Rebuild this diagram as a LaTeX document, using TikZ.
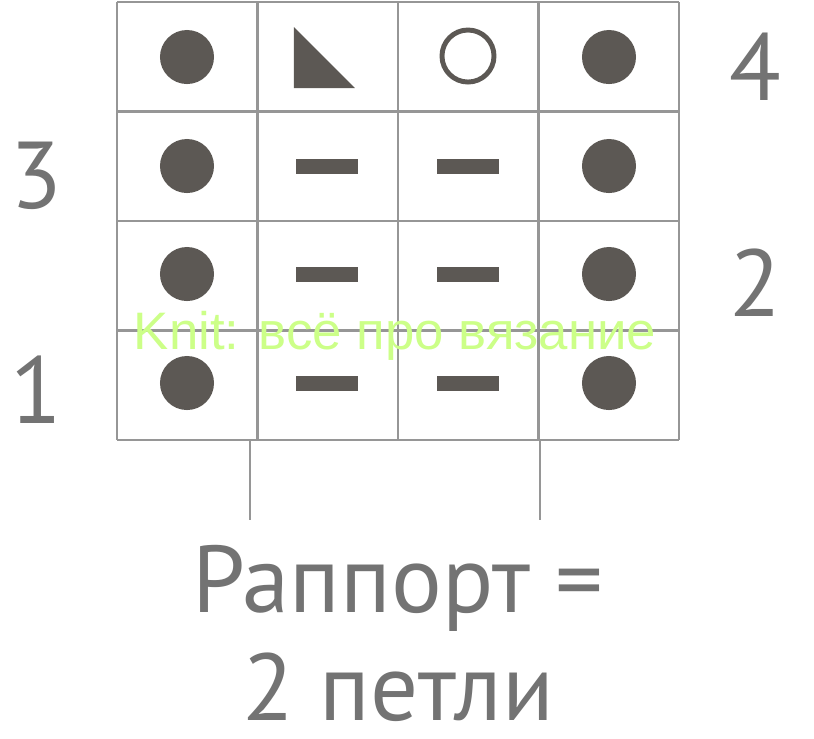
\documentclass[tikz,border=0pt]{standalone}
\usepackage{fontspec}
\setmainfont{PT Sans}
\newfontfamily\markfont{Liberation Sans}
\definecolor{gridgray}{RGB}{150,150,150}
\definecolor{inkgray}{RGB}{92,88,84}
\definecolor{textgray}{RGB}{115,115,115}
\definecolor{markgreen}{RGB}{204,255,136}
\begin{document}
\begin{tikzpicture}[x=0.01cm, y=-0.01cm,
        gridline/.style={gridgray, line width=0.7pt},
        dot/.style={circle, fill=inkgray, minimum size=0.54cm, inner sep=0pt},
        ring/.style={circle, draw=inkgray, line width=1.4pt, minimum size=0.52cm, inner sep=0pt},
        bar/.style={rectangle, fill=inkgray, minimum width=0.62cm, minimum height=0.15cm, inner sep=0pt},
        rownum/.style={text=textgray, inner sep=0pt, font=\fontsize{27}{27}\selectfont},
        caption/.style={text=textgray, inner sep=0pt, font=\fontsize{27}{27}\selectfont, anchor=base}]
        \fill[white] (0,0) rectangle (814,738);
        \useasboundingbox (0,0) rectangle (814,738);
        % chart grid
        \foreach \i in {0,...,4}
            \draw[gridline] ({117+140.5*\i},2) -- ({117+140.5*\i},440);
        \foreach \j in {0,...,4}
            \draw[gridline] (117,{2+109.5*\j}) -- (679,{2+109.5*\j});
        \draw[gridline] (250,440) -- (250,520);
        \draw[gridline] (540,440) -- (540,520);
        % top row
        \node[dot] (c11) at (187,57) {};
        \coordinate (c12) at (327,57);
        \fill[inkgray, shift={(c12)}] (-33,-30) -- (-33,31) -- (28,31) -- cycle;
        \node[ring] (c13) at (468,56) {};
        \node[dot] (c14) at (609,57) {};
        % other rows
        \foreach \r/\y in {2/166, 3/274, 4/383} {
            \node[dot] (c\r1) at (187,\y) {};
            \node[bar] (c\r2) at (327,\y) {};
            \node[bar] (c\r3) at (468,\y) {};
            \node[dot] (c\r4) at (609,\y) {};
        }
        % row numbers
        \node[rownum] (n4) at (755,67) {4};
        \node[rownum] (n3) at (36,176) {3};
        \node[rownum] (n2) at (755,283) {2};
        \node[rownum] (n1) at (36,390) {1};
        \node[caption] (rapport) at (398,612) {Раппорт =};
        \node[caption] (loops) at (398,720) {2 петли};
        \node[text=markgreen, font=\markfont\fontsize{15}{15}\selectfont, anchor=base] (mark) at (395,349) {Knit: всё про вязание};
\end{tikzpicture}
\end{document}
